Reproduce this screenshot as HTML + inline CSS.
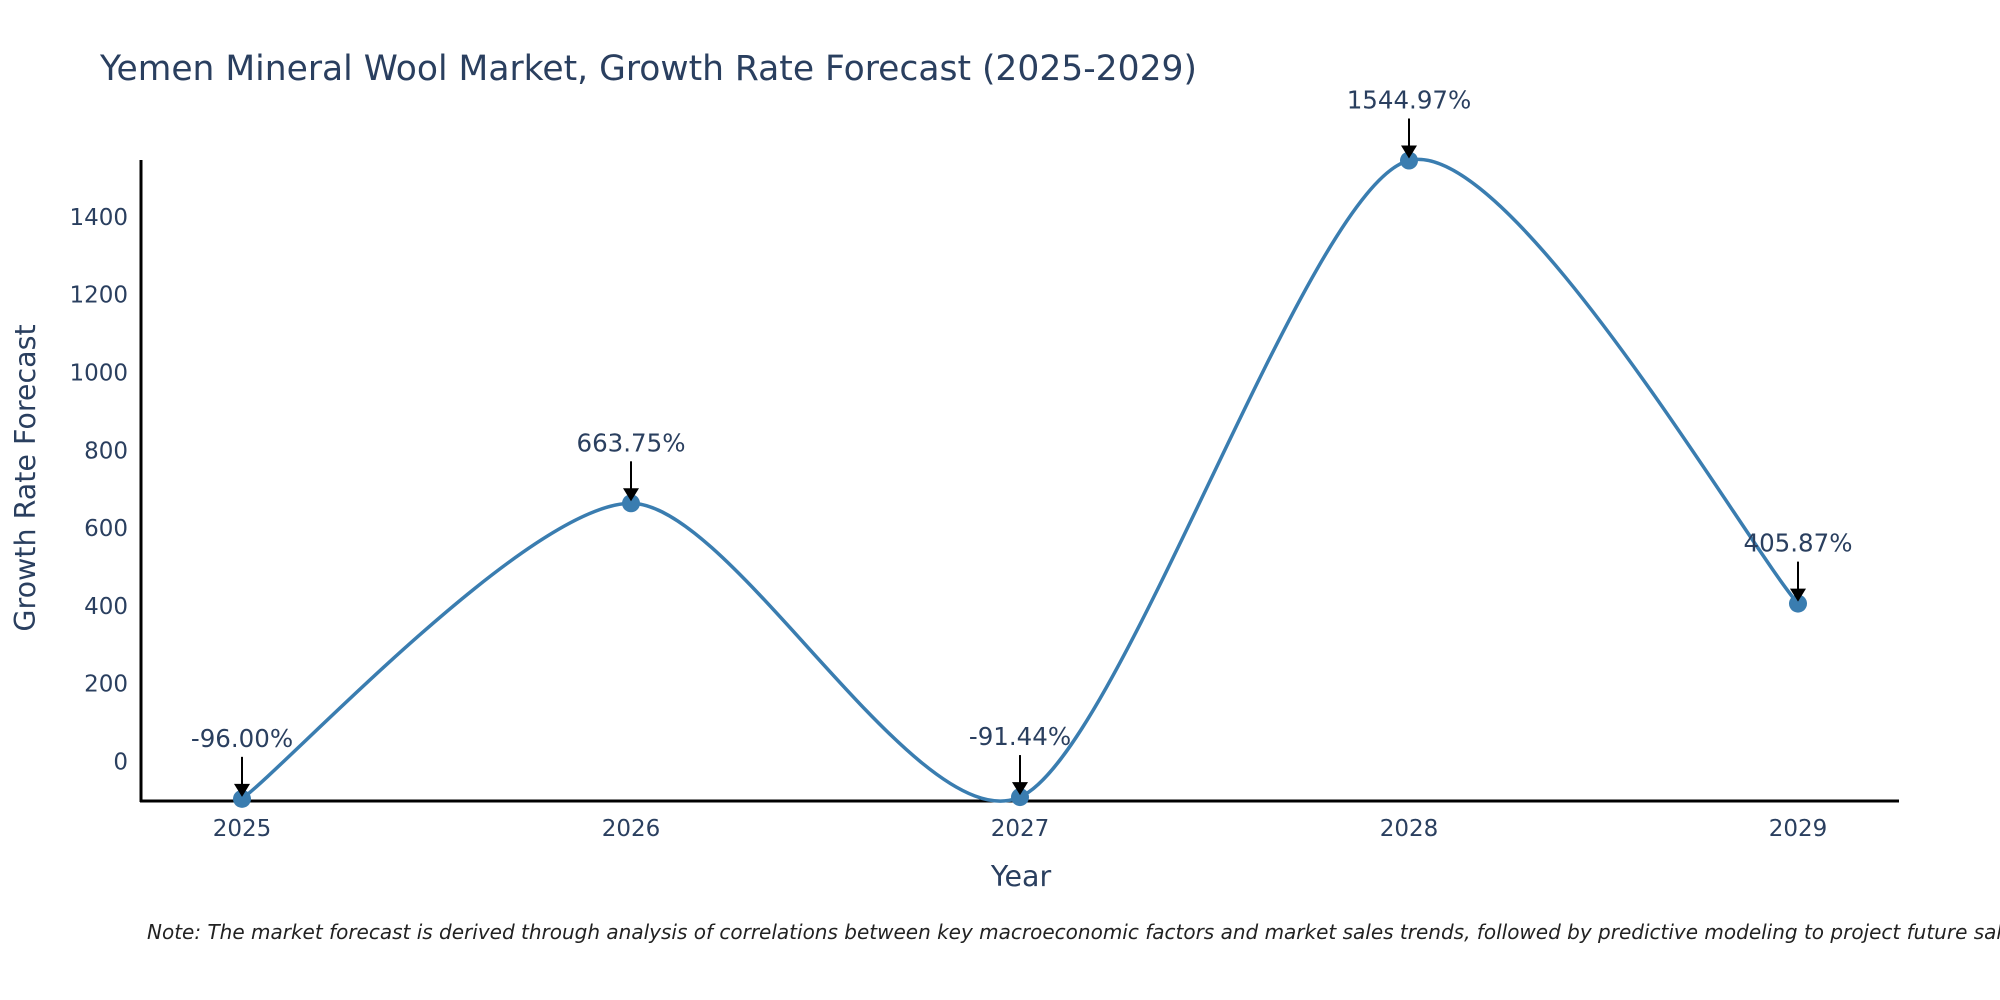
<!DOCTYPE html>
<html><head><meta charset="utf-8"><style>
body{margin:0;background:#fff}
svg{display:block;font-family:"DejaVu Sans","Liberation Sans",sans-serif}
</style></head><body>
<svg id="chart" width="2000" height="1000" viewBox="0 0 2000 1000">
<text x="100" y="80" font-size="34.5" fill="#2a3f5f">Yemen Mineral Wool Market, Growth Rate Forecast (2025-2029)</text>
<g id="yticks"></g>
<g id="xticks"></g>
<line x1="141" y1="160" x2="141" y2="802" stroke="#000" stroke-width="3"/>
<line x1="140" y1="801" x2="1899" y2="801" stroke="#000" stroke-width="3"/>
<g id="series"></g>
<g id="annots"></g>
<text transform="translate(35,478) rotate(-90)" text-anchor="middle" font-size="28.5" fill="#2a3f5f">Growth Rate Forecast</text>
<text x="1021" y="886" text-anchor="middle" font-size="28.5" fill="#2a3f5f">Year</text>
<text x="147" y="939" font-size="20" font-style="italic" fill="#222">Note: The market forecast is derived through analysis of correlations between key macroeconomic factors and market sales trends, followed by predictive modeling to project future sales.</text>
</svg>
<script>
const years=[2025,2026,2027,2028,2029];
const values=[-96.00,663.75,-91.44,1544.97,405.87];
const labels=["-96.00%","663.75%","-91.44%","1544.97%","405.87%"];
const yTicks=[0,200,400,600,800,1000,1200,1400];
const NS="http://www.w3.org/2000/svg";
const xs=i=>242+i*389;
const ys=v=>761.5-v*0.389;
function mk(t,a,p){const e=document.createElementNS(NS,t);for(const k in a)e.setAttribute(k,a[k]);p.appendChild(e);return e;}
const yt=document.getElementById('yticks');
yTicks.forEach(v=>{const t=mk('text',{x:128,y:ys(v)+8,'text-anchor':'end','font-size':23,fill:'#2a3f5f'},yt);


t.textContent=v;});
const xt=document.getElementById('xticks');
years.forEach((y,i)=>{const t=mk('text',{x:xs(i),y:836,'text-anchor':'middle','font-size':23,fill:'#2a3f5f'},xt);


t.textContent=y;});
const pts=values.map((v,i)=>[xs(i),ys(v)]);
let d='M'+pts[0][0]+','+pts[0][1];const s=0.13;
for(let i=0;i<pts.length-1;i++){const p0=pts[Math.max(i-1,0)],p1=pts[i],p2=pts[i+1],p3=pts[Math.min(i+2,pts.length-1)];
const c1=[p1[0]+(p2[0]-p0[0])*s,p1[1]+(p2[1]-p0[1])*s],c2=[p2[0]-(p3[0]-p1[0])*s,p2[1]-(p3[1]-p1[1])*s];
d+=` C${c1[0]},${c1[1]} ${c2[0]},${c2[1]} ${p2[0]},${p2[1]}`;}
const sg=document.getElementById('series');
const path=mk('path',{d:d,fill:'none',stroke:'#3a7db0','stroke-width':3.5},sg);


const an=document.getElementById('annots');
pts.forEach((p,i)=>{const c=mk('circle',{cx:p[0],cy:p[1],r:9,fill:'#3a7db0'},sg);


const l=mk('line',{x1:p[0],y1:p[1]-42,x2:p[0],y2:p[1]-12,stroke:'#000','stroke-width':2},an);


const h=mk('polygon',{points:`${p[0]-8},${p[1]-15} ${p[0]+8},${p[1]-15} ${p[0]},${p[1]-2}`,fill:'#000'},an);


const t=mk('text',{x:p[0],y:p[1]-52,'text-anchor':'middle','font-size':24.5,fill:'#2a3f5f'},an);


t.textContent=labels[i];});
</script>
</body></html>
